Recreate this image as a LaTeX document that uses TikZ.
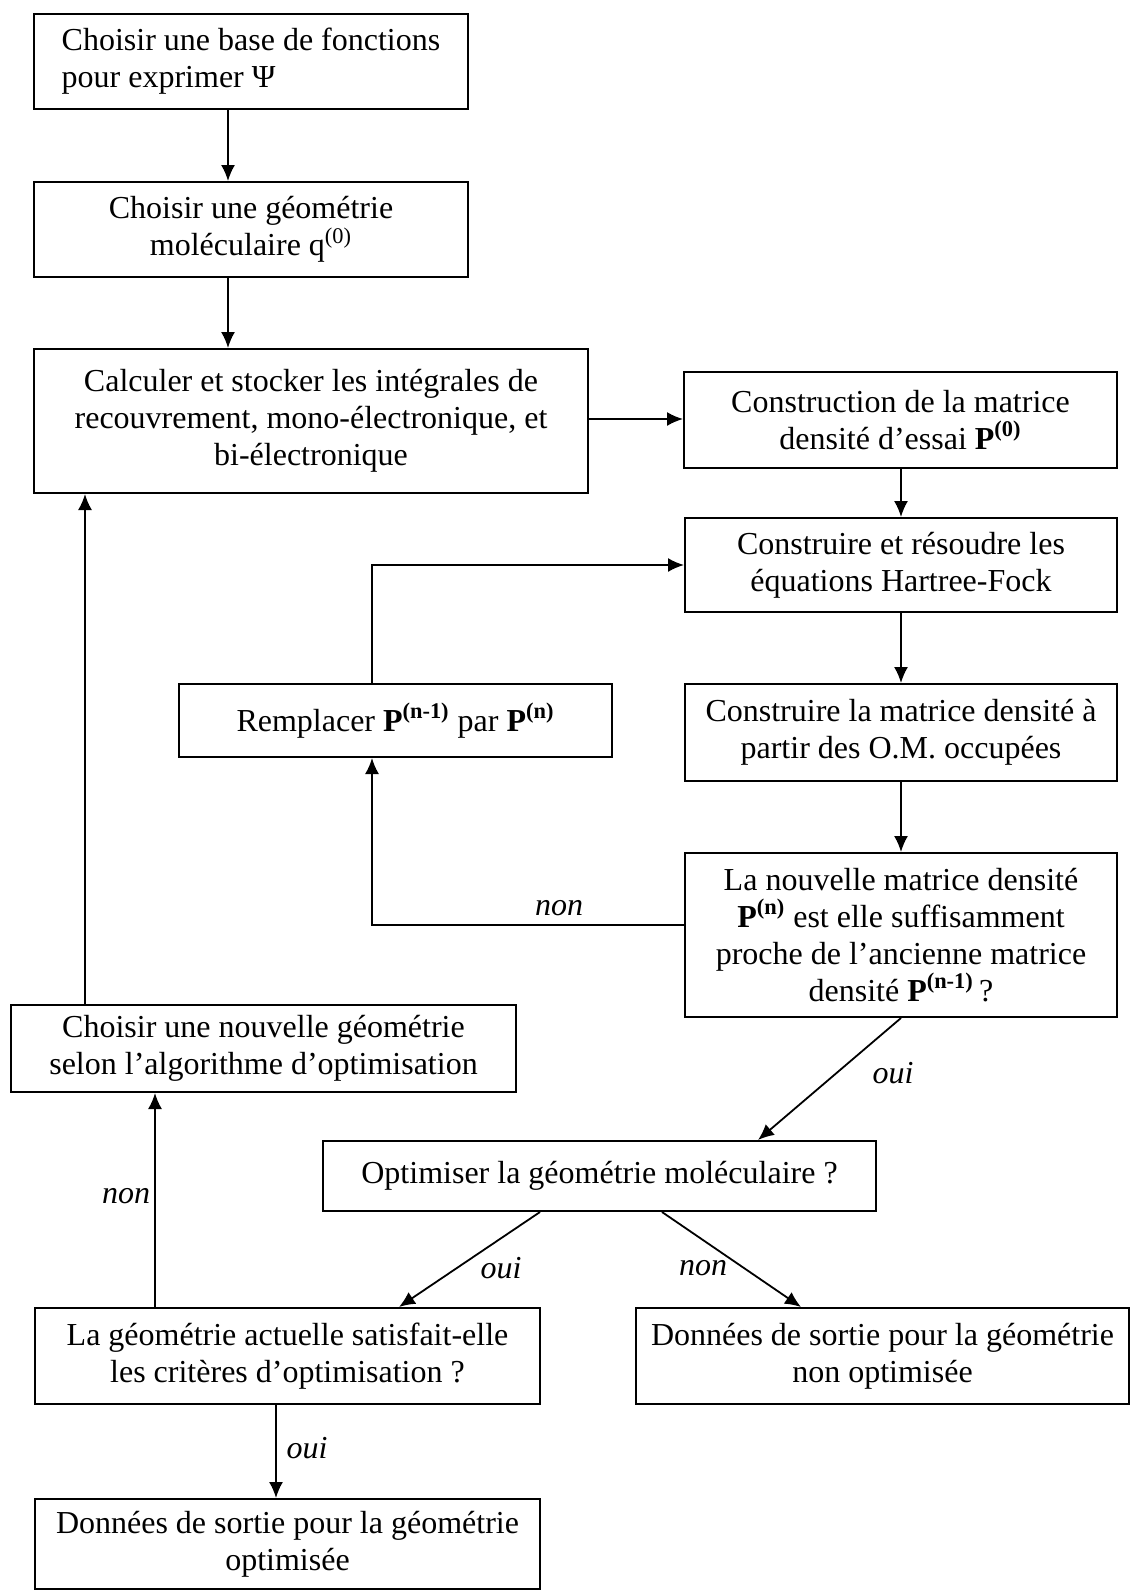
\documentclass[tikz,border=0pt]{standalone}
\usepackage{fontspec}
\setmainfont{Liberation Serif}
\usetikzlibrary{arrows.meta}

\begin{document}
\begin{tikzpicture}[x=.5pt,y=-.5pt,>={Latex[length=8pt,width=7pt]},line width=.9pt,
    box/.style={draw,line width=1pt,align=center,inner sep=0pt,font=\fontsize{16}{18.5}\selectfont},
    lbl/.style={font=\fontsize{16}{18.5}\selectfont\itshape}]
    \useasboundingbox (0,0) rectangle (1131,1591);
    \node[box,minimum width=217pt,minimum height=47.5pt,align=left] (base) at (251,61.5) {Choisir une base de fonctions\\pour exprimer Ψ};
    \node[box,minimum width=217pt,minimum height=47.5pt] (geom) at (251,229.5) {Choisir une géométrie\\moléculaire q\textsuperscript{(0)}};
    \node[box,minimum width=277pt,minimum height=72pt] (calc) at (311,421) {Calculer et stocker les intégrales de\\recouvrement, mono-électronique, et\\bi-électronique};
    \node[box,minimum width=216.5pt,minimum height=48pt] (essai) at (900.5,420) {Construction de la matrice\\densité d’essai \textbf{P\textsuperscript{(0)}}};
    \node[box,minimum width=216pt,minimum height=47pt] (hf) at (901,565) {Construire et résoudre les\\équations Hartree-Fock};
    \node[box,minimum width=216.5pt,minimum height=36.5pt] (rempl) at (395.5,720.5) {Remplacer \textbf{P\textsuperscript{(n-1)}} par \textbf{P\textsuperscript{(n)}}};
    \node[box,minimum width=216pt,minimum height=48.5pt] (dens) at (901,732.5) {Construire la matrice densité à\\partir des O.M. occupées};
    \node[box,minimum width=216pt,minimum height=82pt] (conv) at (901,935) {La nouvelle matrice densité\\\textbf{P\textsuperscript{(n)}} est elle suffisamment\\proche de l’ancienne matrice\\densité \textbf{P\textsuperscript{(n-1)}}\,?};
    \node[box,minimum width=252.5pt,minimum height=43.5pt] (nouv) at (263.5,1048.5) {Choisir une nouvelle géométrie\\selon l’algorithme d’optimisation};
    \node[box,minimum width=276.5pt,minimum height=35pt] (optim) at (599.5,1176) {Optimiser la géométrie moléculaire ?};
    \node[box,minimum width=252.5pt,minimum height=48pt] (crit) at (287.5,1356) {La géométrie actuelle satisfait-elle\\les critères d’optimisation ?};
    \node[box,minimum width=246.5pt,minimum height=48pt] (nonopt) at (882.5,1356) {Données de sortie pour la géométrie\\non optimisée};
    \node[box,minimum width=252.5pt,minimum height=45pt] (opt) at (287.5,1544) {Données de sortie pour la géométrie\\optimisée};

    \draw[->] (base.south -| 228,0) -- (geom.north -| 228,0);
    \draw[->] (geom.south -| 228,0) -- (calc.north -| 228,0);
    \draw[->] (calc.east |- 0,419) -- (essai.west |- 0,419);
    \draw[->] (essai.south -| 901,0) -- (hf.north -| 901,0);
    \draw[->] (hf) -- (dens);
    \draw[->] (dens) -- (conv);
    \draw[->] (rempl.north -| 372,0) |- (hf.west);
    \draw[->] (conv.west |- 0,925) -| (rempl.south -| 372,0);
    \node[lbl] (non1) at (559,908) {non};
    \draw[->] (conv.south) -- (optim.north -| 758,0);
    \node[lbl] (oui1) at (893,1073) {oui};
    \draw[->] (optim.south -| 540,0) -- (crit.north -| 399,0);
    \node[lbl] (oui2) at (501,1268) {oui};
    \draw[->] (optim.south -| 662,0) -- (nonopt.north -| 801,0);
    \node[lbl] (non2) at (703,1268) {non};
    \draw[->] (crit.north -| 155,0) -- (nouv.south -| 155,0);
    \node[lbl] (non3) at (126,1196) {non};
    \draw[->] (nouv.north -| 85,0) -- (calc.south -| 85,0);
    \draw[->] (crit.south -| 276,0) -- (opt.north -| 276,0);
    \node[lbl] (oui3) at (307,1448) {oui};
\end{tikzpicture}
\end{document}
